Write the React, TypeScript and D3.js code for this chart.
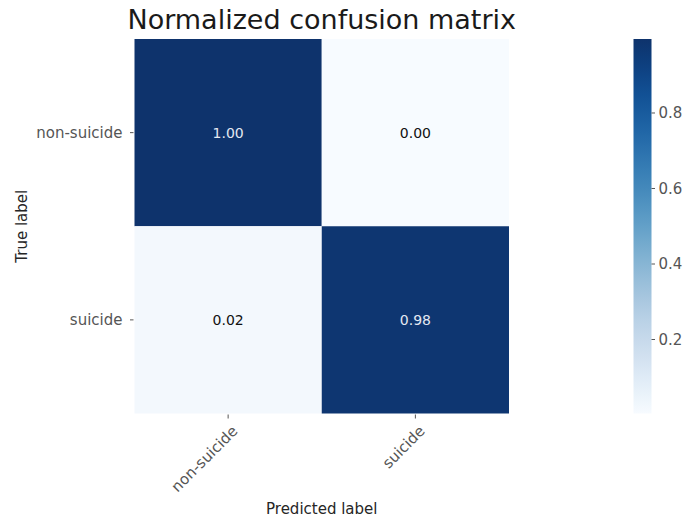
import React, { useEffect, useRef } from "react";
import * as d3 from "d3";

const classes = ["non-suicide", "suicide"];
const rowNonSuicide = [0.996, 0.004];
const rowSuicide = [0.021, 0.979];
const matrix = [rowNonSuicide, rowSuicide];
const colorbarTicks = [0.2, 0.4, 0.6, 0.8];
const title = "Normalized confusion matrix";
const xLabel = "Predicted label";
const yLabel = "True label";

export default function App() {
  const ref = useRef<SVGSVGElement>(null);

  useEffect(() => {
    const svg = d3.select(ref.current);
    svg.selectAll("*").remove();
    const font = "DejaVu Sans, sans-serif";
    const left = 134.5, right = 509, top = 39, bottom = 413.5;

    const x = d3.scaleBand<string>().domain(classes).range([left, right]);
    const y = d3.scaleBand<string>().domain(classes).range([top, bottom]);
    const flat = matrix.flat();
    const ext = d3.extent(flat) as [number, number];
    const cmap = (t: number) => d3.interpolateRgb(d3.interpolateBlues(t), "#1f3a6e")(t * 0.25);
    const color = d3.scaleSequential(cmap).domain(ext);
    const thresh = (ext[0] + ext[1]) / 2;

    const cells = matrix.flatMap((row, i) => row.map((v, j) => ({ i, j, v })));
    svg.append("g").selectAll("rect").data(cells).join("rect")
      .attr("x", d => x(classes[d.j])!)
      .attr("y", d => y(classes[d.i])!)
      .attr("width", x.bandwidth())
      .attr("height", y.bandwidth())
      .attr("fill", d => color(d.v));

    svg.append("g").selectAll("text").data(cells).join("text")
      .attr("x", d => x(classes[d.j])! + x.bandwidth() / 2)
      .attr("y", d => y(classes[d.i])! + y.bandwidth() / 2)
      .attr("dy", "0.35em")
      .attr("text-anchor", "middle")
      .attr("font-family", font)
      .attr("font-size", 14)
      .attr("fill", d => (d.v > thresh ? "#e3e8f1" : "#111"))
      .text(d => d.v.toFixed(2));

    // y axis ticks
    const yt = svg.append("g");
    classes.forEach(c => {
      const cy = y(c)! + y.bandwidth() / 2;
      yt.append("line").attr("x1", left - 4.5).attr("x2", left - 1).attr("y1", cy).attr("y2", cy)
        .attr("stroke", "#555").attr("stroke-width", 1);
      yt.append("text").attr("x", left - 12).attr("y", cy).attr("dy", "0.35em")
        .attr("text-anchor", "end").attr("font-family", font).attr("font-size", 15)
        .attr("fill", "#555").text(c);
    });

    // x axis ticks
    const xt = svg.append("g");
    classes.forEach(c => {
      const cx = x(c)! + x.bandwidth() / 2;
      xt.append("line").attr("x1", cx).attr("x2", cx).attr("y1", bottom + 1).attr("y2", bottom + 5)
        .attr("stroke", "#555").attr("stroke-width", 1);
      xt.append("text")
        .attr("transform", `translate(${cx + 2},${bottom + 10}) rotate(-45)`)
        .attr("dy", "0.8em")
        .attr("text-anchor", "end").attr("font-family", font).attr("font-size", 15)
        .attr("fill", "#555").text(c);
    });

    svg.append("text").attr("x", (left + right) / 2).attr("y", 514)
      .attr("text-anchor", "middle").attr("font-family", font).attr("font-size", 15)
      .attr("fill", "#262626").text(xLabel);
    svg.append("text").attr("transform", `translate(27,${(top + bottom) / 2}) rotate(-90)`)
      .attr("text-anchor", "middle").attr("font-family", font).attr("font-size", 15)
      .attr("fill", "#262626").text(yLabel);

    svg.append("text").attr("x", (left + right) / 2).attr("y", 29)
      .attr("text-anchor", "middle").attr("font-family", font).attr("font-size", 27)
      .attr("fill", "#1a1a1a").text(title);

    // colorbar
    const cbx = 633.5, cbw = 18;
    const cy = d3.scaleLinear().domain(ext).range([bottom, top]);
    const defs = svg.append("defs");
    const grad = defs.append("linearGradient").attr("id", "cbgrad")
      .attr("x1", 0).attr("y1", 1).attr("x2", 0).attr("y2", 0);
    d3.range(0, 1.0001, 0.05).forEach(t => {
      grad.append("stop").attr("offset", t).attr("stop-color", cmap(t));
    });
    svg.append("rect").attr("x", cbx).attr("y", top).attr("width", cbw).attr("height", bottom - top)
      .attr("fill", "url(#cbgrad)");
    const cbt = svg.append("g");
    colorbarTicks.forEach(t => {
      const ty = cy(t);
      cbt.append("line").attr("x1", cbx + cbw).attr("x2", cbx + cbw + 3.5).attr("y1", ty).attr("y2", ty)
        .attr("stroke", "#555").attr("stroke-width", 1);
      cbt.append("text").attr("x", cbx + cbw + 7).attr("y", ty).attr("dy", "0.35em")
        .attr("font-family", font).attr("font-size", 15).attr("fill", "#555").text(t.toFixed(1));
    });
  }, []);

  return (
    <svg ref={ref} width={685} height={520}
      style={{ position: "absolute", left: 0, top: 0, background: "#fff" }} />
  );
}
